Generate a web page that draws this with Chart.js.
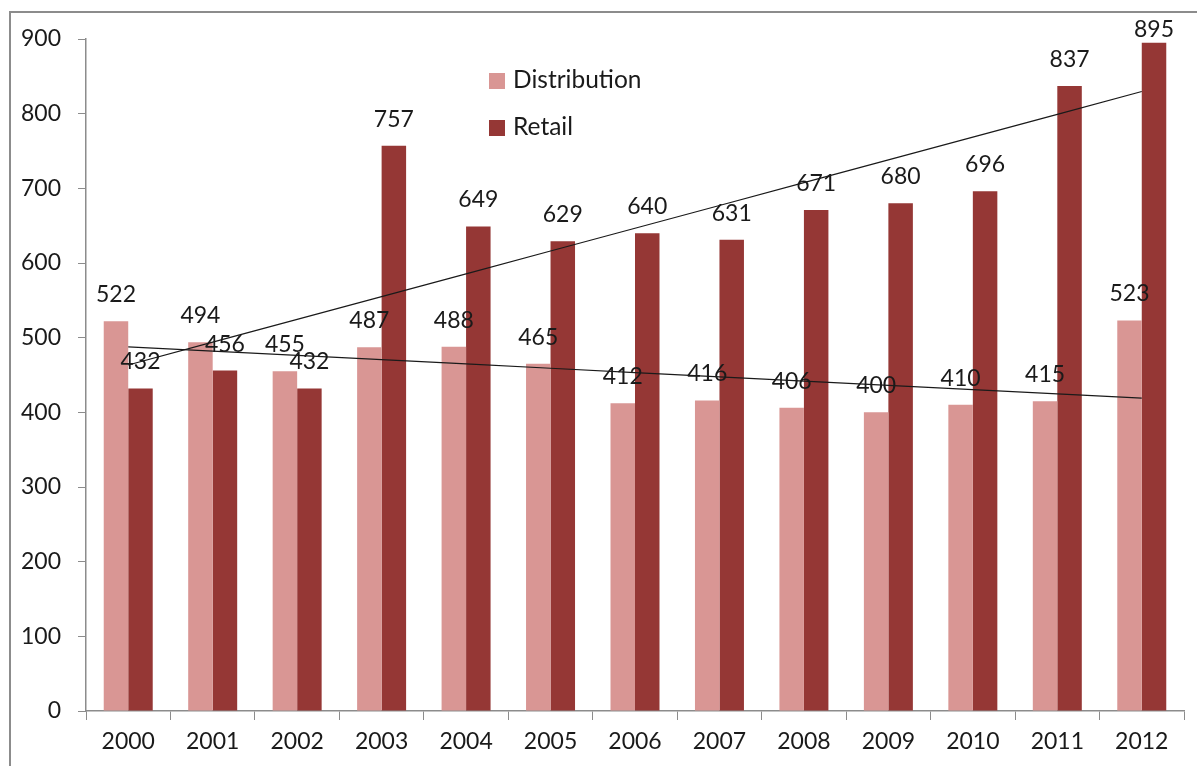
<!DOCTYPE html>
<html lang="en">
<head>
    <meta charset="UTF-8">
    <title>Distribution and Retail</title>
    <style>
        body {
            margin: 0;
            padding: 0;
            background-color: #ffffff;
            overflow: hidden;
            font-family: Lato, "Open Sans", sans-serif;
        }
        #frame {
            position: absolute;
            left: 9px;
            top: 11px;
            width: 1400px;
            height: 1000px;
            border: 2px solid #8c8c8c;
        }
        #wrap {
            position: absolute;
            left: 0;
            top: 0;
            width: 1197px;
            height: 766px;
        }
        .legend {
            position: absolute;
            left: 489px;
            font-size: 24.5px;
            color: #1a1a1a;
            line-height: 24px;
        }
        .legend span {
            display: inline-block;
            width: 16px;
            height: 16px;
            margin-right: 8px;
            vertical-align: -1px;
        }
    </style>
</head>
<body>
    <div id="frame"></div>
    <div id="wrap">
        <canvas id="myChart" width="1197" height="766"></canvas>
    </div>
    <div class="legend" style="top:67px"><span style="background:#D99694"></span>Distribution</div>
    <div class="legend" style="top:114px"><span style="background:#953735"></span>Retail</div>

    <script src="https://cdn.jsdelivr.net/npm/chart.js"></script>
    <script>
        const years = ['2000', '2001', '2002', '2003', '2004', '2005', '2006',
                       '2007', '2008', '2009', '2010', '2011', '2012'];
        const distribution = [522, 494, 455, 487, 488, 465, 412, 416, 406, 400, 410, 415, 523];
        const retail = [432, 456, 432, 757, 649, 629, 640, 631, 671, 680, 696, 837, 895];
        const yTicks = [0, 100, 200, 300, 400, 500, 600, 700, 800, 900];

        // least squares line, like Excel's linear trendline
        function linearTrend(values) {
            const n = values.length;
            let sx = 0, sy = 0, sxy = 0, sxx = 0;
            values.forEach((v, i) => { sx += i; sy += v; sxy += i * v; sxx += i * i; });
            const slope = (n * sxy - sx * sy) / (n * sxx - sx * sx);
            const icpt = (sy - slope * sx) / n;
            return values.map((v, i) => icpt + slope * i);
        }

        const labelPlugin = {
            id: 'barLabels',
            afterDatasetsDraw(chart) {
                const ctx = chart.ctx;
                ctx.save();
                ctx.font = '23px Lato, "Open Sans", sans-serif';
                ctx.fillStyle = '#1a1a1a';
                ctx.textAlign = 'center';
                ctx.textBaseline = 'alphabetic';
                chart.data.datasets.forEach((ds, i) => {
                    if (ds.type === 'line') return;
                    chart.getDatasetMeta(i).data.forEach((bar, j) => {
                        // keep labels inside the chart like Excel does
                        const y = Math.max(bar.y - 19, 37);
                        ctx.fillText(ds.data[j], bar.x, y);
                    });
                });
                ctx.restore();
            }
        };

        const ctx = document.getElementById('myChart').getContext('2d');
        new Chart(ctx, {
            type: 'bar',
            data: {
                labels: years,
                datasets: [
                    {
                        label: 'Distribution',
                        data: distribution,
                        backgroundColor: '#D99694',
                        categoryPercentage: 0.58,
                        barPercentage: 1.0,
                        order: 2
                    },
                    {
                        label: 'Retail',
                        data: retail,
                        backgroundColor: '#953735',
                        categoryPercentage: 0.58,
                        barPercentage: 1.0,
                        order: 2
                    },
                    {
                        type: 'line',
                        label: 'Trend Distribution',
                        data: linearTrend(distribution),
                        borderColor: '#1a1a1a',
                        borderWidth: 1.2,
                        pointRadius: 0,
                        fill: false,
                        order: 1
                    },
                    {
                        type: 'line',
                        label: 'Trend Retail',
                        data: linearTrend(retail),
                        borderColor: '#1a1a1a',
                        borderWidth: 1.2,
                        pointRadius: 0,
                        fill: false,
                        order: 1
                    }
                ]
            },
            options: {
                responsive: false,
                animation: false,
                layout: {
                    padding: { left: 0, right: 13, top: 39, bottom: 0 }
                },
                plugins: {
                    legend: { display: false },
                    tooltip: { enabled: false }
                },
                scales: {
                    x: {
                        grid: {
                            display: true,
                            drawOnChartArea: false,
                            tickLength: 9,
                            color: '#8c8c8c',
                            offset: true
                        },
                        border: { color: '#8c8c8c', width: 1.5 },
                        ticks: {
                            color: '#1a1a1a',
                            font: { size: 23, family: 'Lato, "Open Sans", sans-serif' },
                            padding: 8,
                            maxRotation: 0
                        },
                        afterFit(scale) { scale.height = 55; }
                    },
                    y: {
                        min: 0,
                        max: 900,
                        afterBuildTicks(scale) { scale.ticks = yTicks.map(v => ({ value: v })); },
                        grid: {
                            display: true,
                            drawOnChartArea: false,
                            tickLength: 8,
                            color: '#8c8c8c'
                        },
                        border: { color: '#8c8c8c', width: 1.5 },
                        ticks: {
                            color: '#1a1a1a',
                            font: { size: 23, family: 'Lato, "Open Sans", sans-serif' },
                            padding: 17
                        },
                        afterFit(scale) { scale.width = 86; }
                    }
                }
            },
            plugins: [labelPlugin]
        });
    </script>
</body>
</html>
